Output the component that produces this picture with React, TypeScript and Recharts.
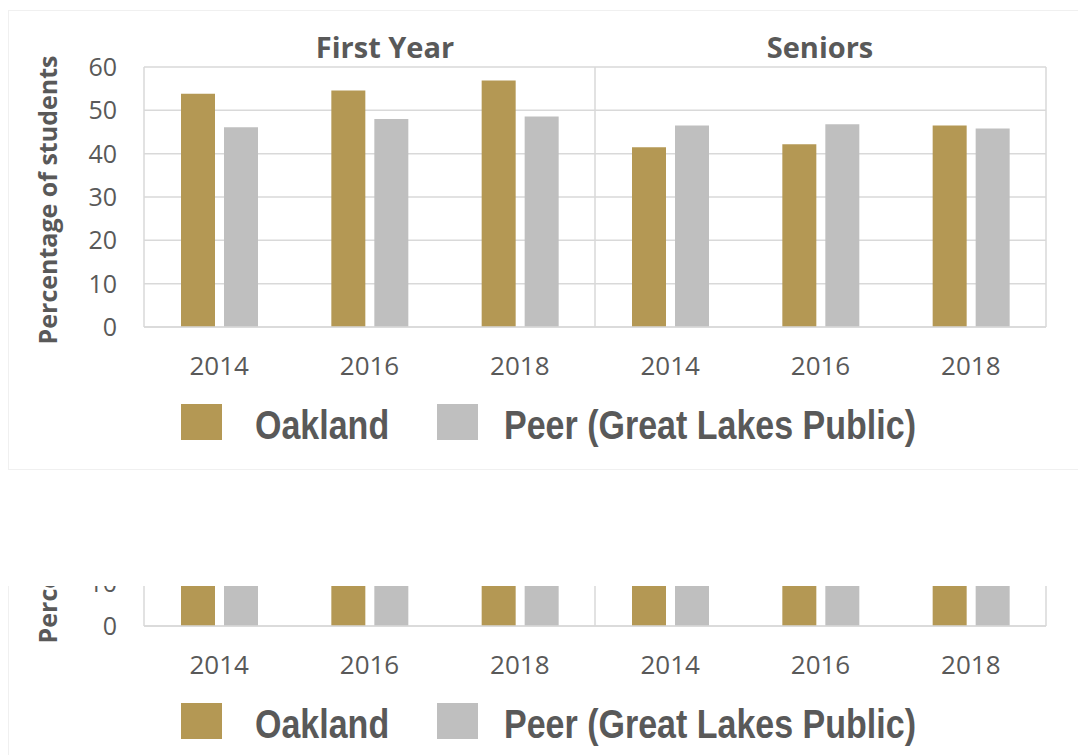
import React from 'react';
import { BarChart, Bar, XAxis, YAxis, CartesianGrid, Legend, Label } from 'recharts';

const categories = ['2014', '2016', '2018', '2014', '2016', '2018'];
const groupTitles = ['First Year', 'Seniors'];
const oaklandValues = [53.8, 54.6, 56.9, 41.5, 42.2, 46.5];
const peerValues = [46.1, 48.0, 48.6, 46.5, 46.8, 45.8];
const yTicks = [0, 10, 20, 30, 40, 50, 60];
const seriesNames = ['Oakland', 'Peer (Great Lakes Public)'];
const yAxisTitle = 'Percentage of students';

const data = categories.map((year, i) => ({
  year,
  oakland: oaklandValues[i],
  peer: peerValues[i],
}));

const GOLD = '#B49854';
const GREY = '#BFBFBF';
const TEXT = '#595959';
const GRID = '#D9D9D9';
const SANS = "'Open Sans', 'DejaVu Sans', sans-serif";
const ARIAL = "'Liberation Sans', Arial, sans-serif";

const CHART_W = 1078;
const CHART_H = 470;

const legendSwatchLeft = [181, 437];
const legendTextLeft = [255, 504];

const LegendContent = (props: any) => {
  const payload = props.payload || [];
  return (
    <div style={{ position: 'relative', width: CHART_W, height: 42 }}>
      {payload.map((entry: any, i: number) => (
        <React.Fragment key={entry.value}>
          <div
            style={{
              position: 'absolute',
              left: legendSwatchLeft[i],
              top: 3,
              width: 41,
              height: 36,
              background: entry.color,
            }}
          />
          <div
            style={{
              position: 'absolute',
              left: legendTextLeft[i],
              top: 3,
              height: 42,
              lineHeight: '42px',
              fontFamily: ARIAL,
              fontWeight: 700,
              fontSize: 40,
              color: TEXT,
              whiteSpace: 'nowrap',
              transform: 'scaleX(0.85)',
              transformOrigin: 'left center',
            }}
          >
            {entry.value}
          </div>
        </React.Fragment>
      ))}
    </div>
  );
};

const YTitle = (props: any) => {
  const vb = props.viewBox || { x: 0, y: 0, height: 0 };
  const cx = vb.x + 47;
  const cy = vb.y + vb.height / 2 + 3;
  return (
    <text
      x={cx}
      y={cy}
      transform={`rotate(-90 ${cx} ${cy})`}
      textAnchor="middle"
      dominantBaseline="central"
      fontFamily={SANS}
      fontWeight={700}
      fontSize={25}
      fill={TEXT}
    >
      {yAxisTitle}
    </text>
  );
};

const ChartBlock = () => (
  <BarChart
    width={CHART_W}
    height={CHART_H}
    data={data}
    margin={{ top: 67, right: 32, left: 0, bottom: 83 }}
    barSize={34}
    barGap={9}
  >
    <CartesianGrid
      stroke={GRID}
      strokeWidth={1.5}
      verticalCoordinatesGenerator={({ offset }: any) => [
        offset.left,
        offset.left + offset.width / 2,
        offset.left + offset.width,
      ]}
    />
    <XAxis
      dataKey="year"
      allowDuplicatedCategory
      tickLine={false}
      tickSize={0}
      tickMargin={30}
      height={60}
      axisLine={{ stroke: GRID, strokeWidth: 1.5 }}
      tick={{ fontFamily: SANS, fontSize: 26, fill: TEXT }}
      interval={0}
    />
    <YAxis
      width={144}
      domain={[0, 60]}
      ticks={yTicks}
      interval={0}
      tickLine={false}
      tickSize={0}
      tickMargin={27}
      axisLine={false}
      tick={{ fontFamily: SANS, fontSize: 25, fill: TEXT }}
    >
      <Label content={<YTitle />} />
    </YAxis>
    <Legend
      layout="horizontal"
      verticalAlign="middle"
      align="center"
      wrapperStyle={{ top: 401, left: 0, width: CHART_W }}
      content={<LegendContent />}
    />
    <Bar dataKey="oakland" name={seriesNames[0]} fill={GOLD} isAnimationActive={false} />
    <Bar dataKey="peer" name={seriesNames[1]} fill={GREY} isAnimationActive={false} />
  </BarChart>
);

const titleCenters = [385, 820];

export default function App() {
  return (
    <div
      style={{
        position: 'absolute',
        left: 0,
        top: 0,
        width: 1078,
        height: 755,
        background: '#FFFFFF',
        overflow: 'hidden',
      }}
    >
      <div
        style={{
          position: 'absolute',
          left: 8,
          top: 10,
          width: 1080,
          height: 458,
          border: '1px solid #F0F0F0',
        }}
      />
      <div style={{ position: 'absolute', left: 0, top: 0 }}>
        <ChartBlock />
      </div>
      {groupTitles.map((t, i) => (
        <div
          key={t}
          style={{
            position: 'absolute',
            left: titleCenters[i] - 150,
            width: 300,
            top: 32,
            textAlign: 'center',
            fontFamily: SANS,
            fontWeight: 700,
            fontSize: 29,
            lineHeight: 1,
            color: TEXT,
          }}
        >
          {t}
        </div>
      ))}
      <div
        style={{
          position: 'absolute',
          left: 0,
          top: 586,
          width: 1078,
          height: 169,
          overflow: 'hidden',
        }}
      >
        <div
          style={{
            position: 'absolute',
            left: 8,
            top: 0,
            width: 1080,
            height: 200,
            borderLeft: '1px solid #F0F0F0',
          }}
        />
        <div style={{ position: 'absolute', left: 0, top: -287 }}>
          <ChartBlock />
        </div>
      </div>
    </div>
  );
}
